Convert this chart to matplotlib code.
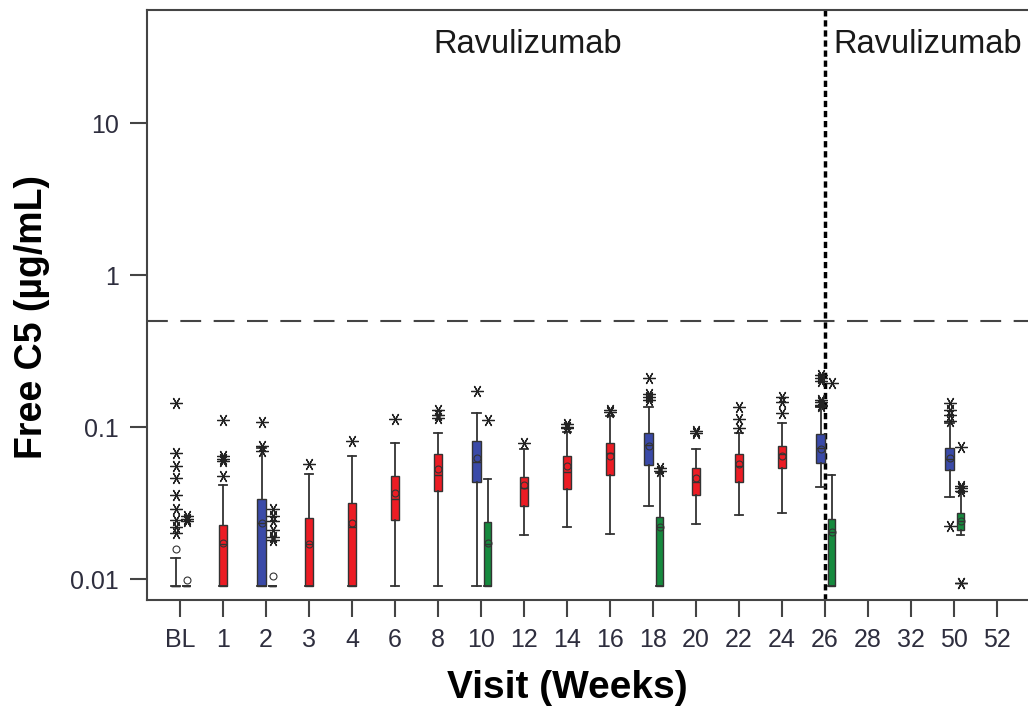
import matplotlib
matplotlib.use("Agg")
import matplotlib.pyplot as plt
import numpy as np

plt.rcParams['font.family'] = ['Liberation Sans', 'DejaVu Sans']

# x axis categories
visits = ['BL', '1', '2', '3', '4', '6', '8', '10', '12', '14', '16', '18',
          '20', '22', '24', '26', '28', '32', '50', '52']

# each group: visit index, whisker low, Q1, median, Q3, whisker high, mean, outliers
red_idx = [1, 3, 4, 5, 6, 8, 9, 10, 12, 13, 14]
red_lo = [0.009, 0.009, 0.009, 0.009, 0.009, 0.0194, 0.0221, 0.0198, 0.0229, 0.0263, 0.027]
red_q1 = [0.009, 0.009, 0.009, 0.0244, 0.0379, 0.0302, 0.0389, 0.048, 0.0357, 0.0433, 0.0535]
red_med = [0.017, 0.017, 0.0221, 0.0338, 0.048, 0.040, 0.0507, 0.0673, 0.0437, 0.055, 0.0663]
red_q3 = [0.0227, 0.0251, 0.0315, 0.0476, 0.0664, 0.0467, 0.0645, 0.079, 0.0535, 0.0661, 0.075]
red_hi = [0.0413, 0.049, 0.0645, 0.0788, 0.092, 0.072, 0.0931, 0.118, 0.0715, 0.0909, 0.107]
red_mean = [0.0173, 0.017, 0.0233, 0.0367, 0.053, 0.0416, 0.055, 0.064, 0.046, 0.057, 0.064]
red_out = [[0.111, 0.064, 0.062, 0.060, 0.0476], [0.057], [0.081], [0.113],
           [0.13, 0.12, 0.115], [0.079], [0.105, 0.10, 0.098], [0.13, 0.125],
           [0.094, 0.091], [0.136, 0.113, 0.099], [0.157, 0.147, 0.124]]

blue_idx = [0, 2, 7, 11, 15, 18]
blue_lo = [0.009, 0.009, 0.009, 0.0302, 0.0405, 0.0347]
blue_q1 = [0.009, 0.009, 0.0437, 0.056, 0.058, 0.052]
blue_med = [0.009, 0.0233, 0.059, 0.076, 0.0725, 0.062]
blue_q3 = [0.009, 0.0334, 0.0813, 0.0909, 0.090, 0.0725]
blue_hi = [0.0138, 0.0728, 0.123, 0.136, 0.136, 0.106]
blue_mean = [0.0157, 0.0233, 0.0627, 0.075, 0.072, 0.063]
blue_out = [[0.144, 0.067, 0.055, 0.046, 0.0357, 0.0289, 0.0244, 0.0221, 0.0201],
            [0.108, 0.075, 0.070], [0.173], [0.21, 0.165, 0.158, 0.15],
            [0.22, 0.21, 0.20, 0.15, 0.145, 0.14, 0.138], [0.144, 0.13, 0.12, 0.11, 0.0224]]

green_idx = [0, 2, 7, 11, 15, 18]
green_lo = [0.009, 0.009, 0.009, 0.009, 0.009, 0.0195]
green_q1 = [0.009, 0.009, 0.009, 0.009, 0.009, 0.021]
green_med = [0.009, 0.009, 0.017, 0.022, 0.0205, 0.024]
green_q3 = [0.009, 0.009, 0.0238, 0.0256, 0.0248, 0.027]
green_hi = [0.009, 0.009, 0.0453, 0.0497, 0.048, 0.0375]
green_mean = [0.0098, 0.0104, 0.0173, 0.0221, 0.0205, 0.024]
green_out = [[0.026, 0.025, 0.024], [0.029, 0.026, 0.024, 0.021, 0.019, 0.018],
             [0.111], [0.054, 0.051], [0.195], [0.074, 0.041, 0.040, 0.038, 0.0094, 0.0094]]

lloq_line = 0.5
switch_idx = 15


def make_stats(lo, q1, med, q3, hi, mean, out):
    return [dict(whislo=a, q1=b, med=c, q3=d, whishi=e, mean=f, fliers=g)
            for a, b, c, d, e, f, g in zip(lo, q1, med, q3, hi, mean, out)]


fig = plt.figure(figsize=(10.28, 7.13), dpi=100)
ax = fig.add_axes([0.143, 0.1585, 0.8687, 0.8275])

edge = '#333333'
groups = [
    (red_idx, make_stats(red_lo, red_q1, red_med, red_q3, red_hi, red_mean, red_out), 0.0, 0.2, '#ec1c24'),
    (blue_idx, make_stats(blue_lo, blue_q1, blue_med, blue_q3, blue_hi, blue_mean, blue_out), -0.1, 0.2, '#3a4aa8'),
    (green_idx, make_stats(green_lo, green_q1, green_med, green_q3, green_hi, green_mean, green_out), 0.16, 0.16, '#168a3e'),
]

for idx, stats, off, w, col in groups:
    pos = np.array(idx) + off
    ax.bxp(stats, positions=pos, widths=w, patch_artist=True, showmeans=True,
           capwidths=w,
           boxprops=dict(facecolor=col, edgecolor=edge, linewidth=1.0),
           whiskerprops=dict(color=edge, linewidth=1.3),
           capprops=dict(color=edge, linewidth=1.3),
           medianprops=dict(color=edge, linewidth=1.0),
           meanprops=dict(marker='o', markerfacecolor='none', markeredgecolor=edge,
                          markersize=5, markeredgewidth=0.8),
           flierprops=dict(marker=(6, 2, 30), markersize=9, markeredgecolor='#222222',
                           markeredgewidth=0.9, linestyle='none'),
           manage_ticks=False)

ax.axhline(lloq_line, color='#444444', lw=1.5, ls=(0, (10, 6)), zorder=1)
ax.axvline(switch_idx, color='black', lw=2.5, ls=(0, (1.8, 1.1)), zorder=1)

ax.set_yscale('log')
ax.set_ylim(0.00728, 55.4)
ax.set_xlim(-0.767, 20.0)
ax.set_yticks([0.01, 0.1, 1, 10])
ax.set_yticklabels(['0.01', '0.1', '1', '10'])
ax.yaxis.set_minor_locator(matplotlib.ticker.NullLocator())
ax.set_xticks(range(len(visits)))
ax.set_xticklabels(visits)

tick_col = '#2e2e3e'
ax.tick_params(axis='both', labelsize=18, labelcolor=tick_col, color='#444444',
               length=12, width=1.5, pad=8)
for s in ['left', 'bottom', 'top']:
    ax.spines[s].set_color('#444444')
    ax.spines[s].set_linewidth(1.5)
ax.spines['right'].set_visible(False)

ax.text(8.09, 32.6, 'Ravulizumab', fontsize=23.5, ha='center', va='center', color='#1a1a1a')
ax.text(15.19, 32.6, 'Ravulizumab', fontsize=23.5, ha='left', va='center', color='#1a1a1a')

fig.text(32 / 1028, 1 - 317 / 713, 'Free C5 (µg/mL)', rotation=90, fontsize=27,
         fontweight='bold', ha='center', va='center')
fig.text(567 / 1028, 1 - 688 / 713, 'Visit (Weeks)', fontsize=28,
         fontweight='bold', ha='center', va='center')

fig.savefig('out.png', dpi=100)
